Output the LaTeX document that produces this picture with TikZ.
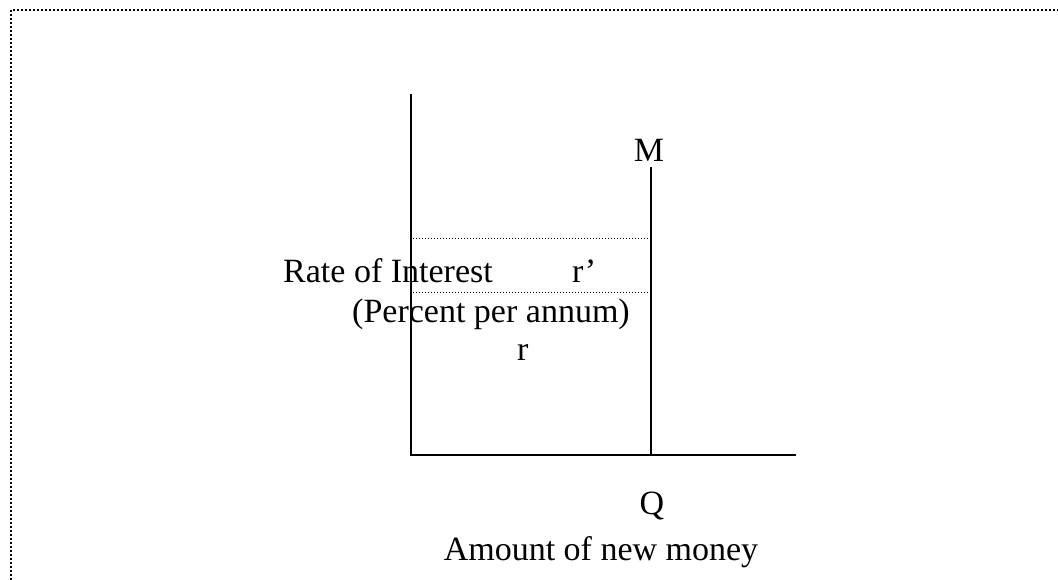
\documentclass[tikz,border=0pt]{standalone}
\usepackage{fontspec}
\setmainfont{Liberation Serif}
\begin{document}
\begin{tikzpicture}[x=1pt,y=-1pt,
  lbl/.style={inner sep=0pt,font=\fontsize{34}{40}\selectfont},
  axis/.style={line width=1.6pt,black},
  guide/.style={line width=1pt,dash pattern=on 1pt off 2pt},
  frame/.style={line width=2pt,dash pattern=on 2pt off 2pt}]
\useasboundingbox (0,0) rectangle (1058,580);
\draw[frame] (11,580) -- (11,10) -- (1058,10);
\coordinate (Ytop) at (411,94);
\coordinate (O) at (411,455);
\coordinate (Xend) at (796,455);
\coordinate (Mtop) at (651,167);
\coordinate (Mbot) at (651,455);
\coordinate (G1a) at (413,239);
\coordinate (G1b) at (648,239);
\coordinate (G2a) at (413,292);
\coordinate (G2b) at (648,292);
\draw[axis] (Ytop) -- (O) -- (Xend);
\draw[axis] (Mtop) -- (Mbot);
\draw[guide] (G1a) -- (G1b);
\draw[guide] (G2a) -- (G2b);
\node[lbl,anchor=base west] (rate) at (283,283) {Rate of Interest};
\node[lbl,anchor=base west] (rp) at (572,283) {r’};
\node[lbl,anchor=base west] (pct) at (352,322) {(Percent per annum)};
\node[lbl,anchor=base west] (r) at (517,360) {r};
\node[lbl,anchor=base] (M) at (649,162) {M};
\node[lbl,anchor=base] (Q) at (652,514) {Q};
\node[lbl,anchor=base] (amt) at (601,560) {Amount of new money};
\end{tikzpicture}
\end{document}
